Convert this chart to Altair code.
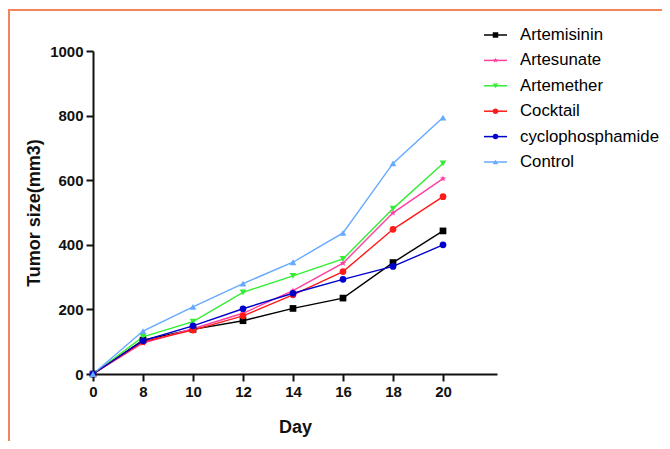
import math
import altair as alt
import pandas as pd

days = [0, 8, 10, 12, 14, 16, 18, 20]
series_names = ["Artemisinin", "Artesunate", "Artemether", "Cocktail", "cyclophosphamide", "Control"]
artemisinin = [0, 105, 138, 165, 203, 235, 345, 443]
artesunate = [0, 96, 140, 188, 258, 343, 499, 605]
artemether = [0, 115, 162, 253, 304, 356, 512, 652]
cocktail = [0, 100, 136, 180, 245, 317, 448, 549]
cyclophosphamide = [0, 103, 149, 202, 250, 293, 333, 400]
control = [0, 133, 208, 280, 346, 437, 652, 794]
y_ticks = [0, 200, 400, 600, 800, 1000]

values = [artemisinin, artesunate, artemether, cocktail, cyclophosphamide, control]
rows = []
for name, vals in zip(series_names, values):
    for i, (d, v) in enumerate(zip(days, vals)):
        rows.append({"idx": i, "Day": d, "Drug": name, "Size": v})
df = pd.DataFrame(rows)
legend_df = pd.DataFrame({"Drug": series_names})

colors = ["#000000", "#ff3f9f", "#33ee33", "#ff1a1a", "#0000cc", "#66aaff"]
# 5-point star path
pts = []
for k in range(10):
    r = 1.0 if k % 2 == 0 else 0.42
    a = -math.pi / 2 + k * math.pi / 5
    pts.append(f"{r*math.cos(a):.3f},{r*math.sin(a):.3f}")
star = "M" + "L".join(pts) + "Z"
shapes = ["square", star, "triangle-down", "circle", "circle", "triangle-up"]
sizes = [45, 45, 50, 55, 35, 50]
widths = [1.4, 1.4, 1.5, 1.5, 2.6, 1.5]

color_scale = alt.Scale(domain=series_names, range=colors)
shape_scale = alt.Scale(domain=series_names, range=shapes)

label_expr = "[" + ",".join(f"'{d}'" for d in days) + "][datum.value]"

x_enc = alt.X("idx:Q", scale=alt.Scale(domain=[0, 8.08], nice=False, zero=False),
              axis=alt.Axis(values=list(range(len(days))), labelExpr=label_expr, title="Day",
                            titlePadding=19, labelFlush=False))
y_enc = alt.Y("Size:Q", scale=alt.Scale(domain=[0, 1000], nice=False),
              axis=alt.Axis(values=y_ticks, format="d", title="Tumor size(mm3)", titlePadding=6,
                            labelFlush=False))

lines = alt.Chart(df).mark_line().encode(
    x=x_enc, y=y_enc,
    color=alt.Color("Drug:N", scale=color_scale, legend=None),
    strokeWidth=alt.StrokeWidth("Drug:N", scale=alt.Scale(domain=series_names, range=widths), legend=None),
    order="idx:Q",
)

points = alt.Chart(df).mark_point(filled=True, opacity=1, strokeWidth=0).encode(
    x=x_enc, y=y_enc,
    color=alt.Color("Drug:N", scale=color_scale, legend=None),
    shape=alt.Shape("Drug:N", scale=shape_scale, legend=None),
    size=alt.Size("Drug:N", scale=alt.Scale(domain=series_names, range=sizes), legend=None),
)

border_top = alt.Chart(df).mark_rule(color="#f4845f", strokeWidth=1.5, clip=False).encode(
    x=alt.value(-84.5), x2=alt.value(580), y=alt.value(-41.3))
border_left = alt.Chart(df).mark_rule(color="#f4845f", strokeWidth=1.5, clip=False).encode(
    x=alt.value(-84.5), y=alt.value(-41.3), y2=alt.value(400))

main = alt.layer(border_top, border_left, lines, points)

# legend built as a layer
ly = alt.Y("Drug:N", sort=series_names,
           scale=alt.Scale(type="point", domain=series_names, range=[-16, 111], padding=0),
           axis=None)
leg_lines = alt.Chart(legend_df).mark_rule(strokeWidth=1.5, clip=False).encode(
    x=alt.value(391), x2=alt.value(414), y=ly,
    color=alt.Color("Drug:N", scale=color_scale, legend=None),
)
leg_pts = alt.Chart(legend_df).mark_point(filled=True, opacity=1, strokeWidth=0, size=30, clip=False).encode(
    x=alt.value(402.5), y=ly,
    color=alt.Color("Drug:N", scale=color_scale, legend=None),
    shape=alt.Shape("Drug:N", scale=shape_scale, legend=None),
)
leg_text = alt.Chart(legend_df).mark_text(align="left", baseline="middle", fontSize=16.8,
                                          font="Liberation Sans", color="#000", clip=False).encode(
    x=alt.value(427), y=ly, text="Drug:N",
)
legend = alt.layer(leg_lines, leg_pts, leg_text)

chart = alt.layer(main, legend).resolve_scale(y="independent").properties(
    width=404, height=323,
    autosize=alt.AutoSizeParams(type="none"),
    padding={"left": 85, "top": 43, "right": 165, "bottom": 67},
).configure_view(stroke=None).configure_axis(
    grid=False, domainColor="#111", domainWidth=2, tickColor="#111", tickWidth=2, tickSize=7,
    labelFont="Liberation Sans", labelFontSize=15, labelFontWeight="bold", labelColor="#111",
    titleFont="Liberation Sans", titleFontSize=18, titleFontWeight="bold", titleColor="#111",
    labelPadding=3,
)

chart.save("out.html", embed_options={"renderer": "svg", "actions": False})
